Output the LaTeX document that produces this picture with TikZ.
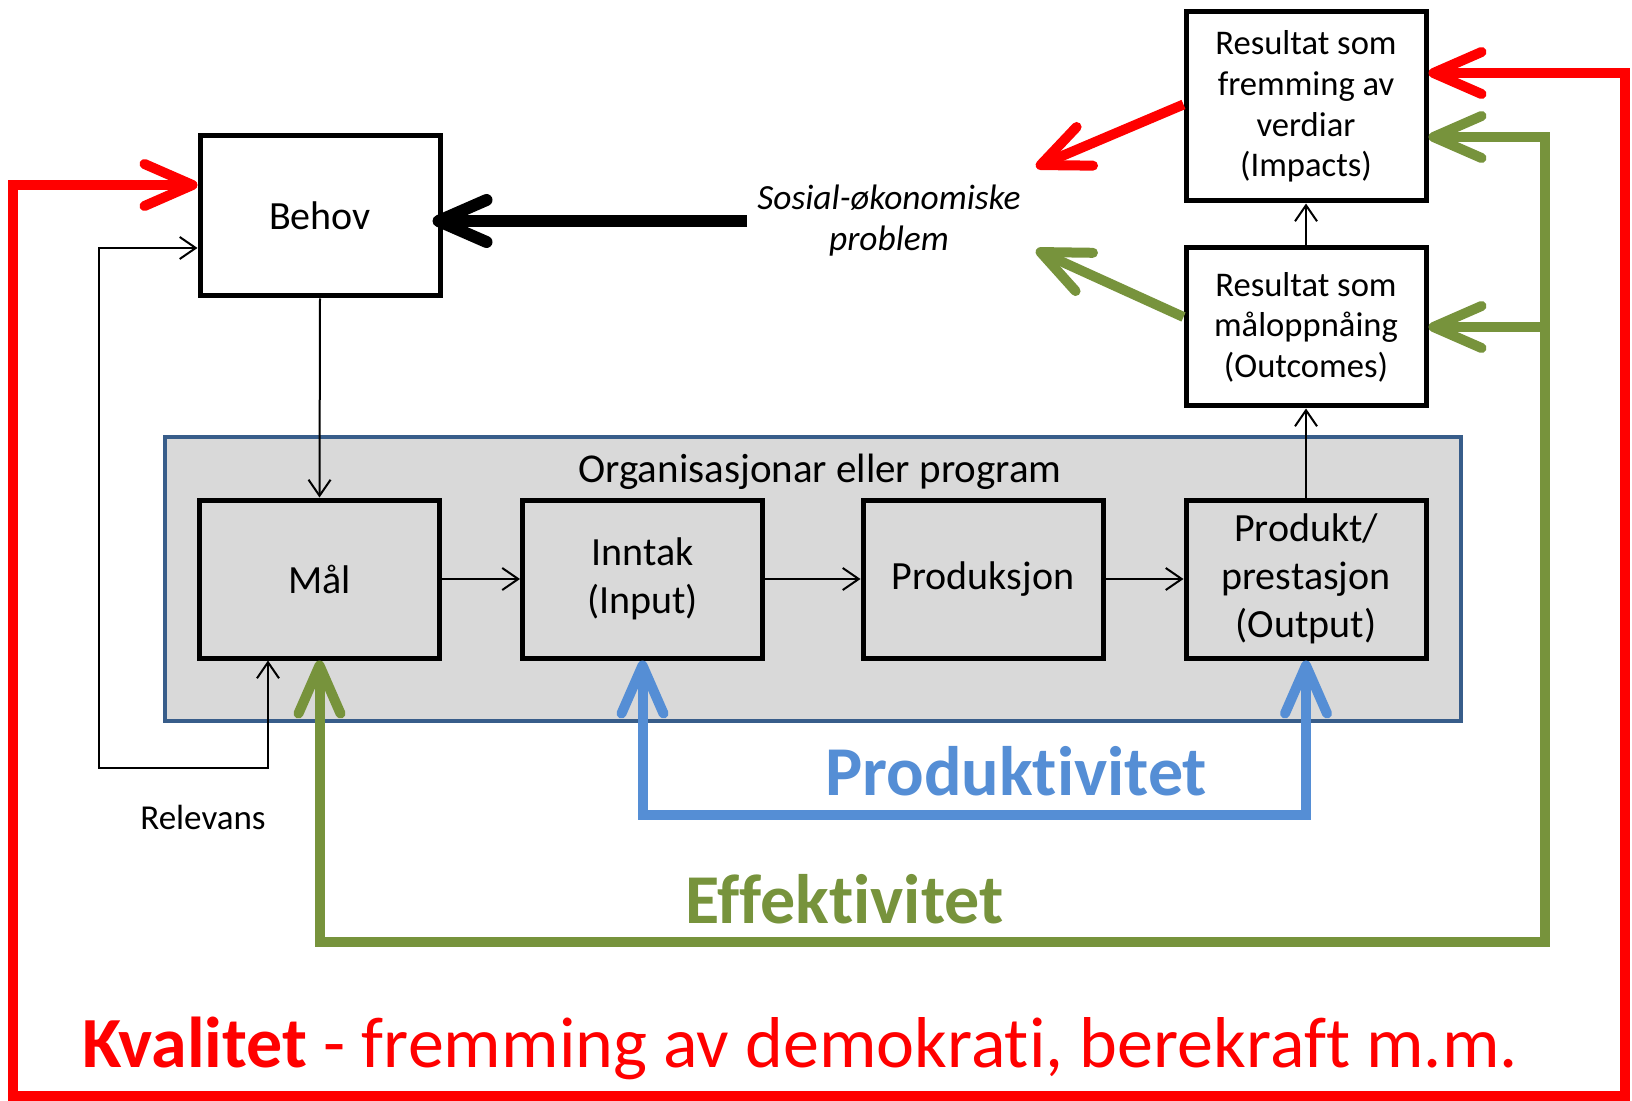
\documentclass[tikz,border=0pt]{standalone}
\usepackage{fontspec}
\setmainfont{Carlito}[Ligatures={NoCommon,NoRare,NoContextual}]
\usetikzlibrary{arrows.meta}
\definecolor{kred}{RGB}{255,0,0}
\definecolor{kgreen}{RGB}{119,147,60}
\definecolor{kblue}{RGB}{85,142,213}
\definecolor{contblue}{RGB}{56,93,138}
\definecolor{contgray}{RGB}{217,217,217}
\tikzset{
  bigbarb/.tip={Straight Barb[length=24pt,width=21pt,round]},
  thinbarb/.tip={Straight Barb[length=8pt,width=11pt]},
  mybox/.style={draw=black, line width=2.5pt, minimum width=120pt, inner sep=0pt, align=center, font=\fontsize{20}{24}\selectfont},
  resbox/.style={draw=black, line width=2.5pt, fill=white, minimum width=120pt, inner sep=0pt, align=center, font=\fontsize{17.3}{20.3}\selectfont},
  thinline/.style={line width=1pt, draw=black},
  redline/.style={line width=5pt, draw=kred, line join=miter},
  greenline/.style={line width=5pt, draw=kgreen, line join=miter},
  blueline/.style={line width=5pt, draw=kblue, line join=miter},
  blackline/.style={line width=6pt, draw=black},
  bigword/.style={anchor=base west, inner sep=0pt, font=\fontsize{35}{42}\selectfont\bfseries},
}
\begin{document}
\begin{tikzpicture}[x=0.5pt,y=-0.5pt]
\useasboundingbox[fill=white] (0,0) rectangle (1632,1101);

% container
\node[draw=contblue, fill=contgray, line width=2pt, minimum width=648pt, minimum height=142pt, inner sep=0pt] (org) at (813,579) {};
\node[font=\fontsize{20.5}{24}\selectfont, inner sep=0pt] (orglabel) at (820,472) {Organisasjonar eller program};

% boxes
\node[mybox, fill=white, minimum height=80pt] (behov) at (320,216) {Behov};
\node[mybox, minimum height=79pt] (mal) at (319.5,579) {Mål};
\node[mybox, minimum height=79pt] (inntak) at (642.5,579) {Inntak\\(Input)};
\node[mybox, minimum height=79pt] (prod) at (983,579) {Produksjon};
\node[mybox, minimum height=79pt] (produkt) at (1306,579) {Produkt/\\prestasjon\\(Output)};
\node[resbox, minimum height=94.5pt] (impacts) at (1306,106.5) {Resultat som\\fremming av\\verdiar\\(Impacts)};
\node[resbox, minimum height=79pt] (outcomes) at (1306,327) {Resultat som\\måloppnåing\\(Outcomes)};

% texts
\node[font=\fontsize{17.7}{20.5}\selectfont\itshape, align=center, inner sep=0pt] (sosial) at (889,221) {Sosial-økonomiske\\problem};
\node[font=\fontsize{17.5}{21}\selectfont, inner sep=0pt] (relevans) at (203,817) {Relevans};
\node[bigword, text=kblue] (produktivitet) at (825,795) {Produktivitet};
\node[bigword, text=kgreen] (effektivitet) at (685,923) {Effektivitet};
\node[anchor=base west, inner sep=0pt, text=kred, font=\fontsize{36}{43}\selectfont] (kvalitet) at (82,1067) {\textbf{Kvalitet} - fremming av demokrati, berekraft m.m.};

% coordinates
\coordinate (rel) at (99,768);
\coordinate (bl) at (642.5,815);
\coordinate (gbot) at (1545,942);
\coordinate (gtop) at (1545,137);
\coordinate (gmid) at (1545,327);
\coordinate (r1) at (1625,73);
\coordinate (r2) at (1625,1096);
\coordinate (r3) at (13,1096);
\coordinate (r4) at (13,185);
\coordinate (rtip) at (1036,167);
\coordinate (gtip) at (1036,250);

% thin arrows
\draw[thinline, -thinbarb] (behov.south) -- (mal.north);
\draw[thinline, -thinbarb] (mal.east) -- (inntak.west);
\draw[thinline, -thinbarb] (inntak.east) -- (prod.west);
\draw[thinline, -thinbarb] (prod.east) -- (produkt.west);
\draw[thinline, -thinbarb] (produkt.north) -- (outcomes.south);
\draw[thinline, -thinbarb] (outcomes.north) -- (impacts.south);
\draw[thinline, thinbarb-thinbarb] ([xshift=-25.75pt]mal.south) |- (rel) |- ([yshift=-16pt]behov.west);

% black thick
\draw[blackline, -bigbarb] ([xshift=-5pt]sosial.west) -- ([xshift=-5pt]sosial.west -| behov.east);

% blue loop
\draw[blueline, bigbarb-bigbarb] (inntak.south) -- (inntak.south |- bl) -| (produkt.south);

% green loop
\draw[greenline, bigbarb-bigbarb] (mal.south) |- (gbot) -- (gtop) -- (impacts.east |- gtop);
\draw[greenline, -bigbarb] (gmid) -- (outcomes.east);
\draw[greenline, -bigbarb] ([yshift=5pt]outcomes.west) -- (gtip);

% red loop
\draw[redline, bigbarb-bigbarb] (impacts.east |- r1) -- (r1) -- (r2) -- (r3) -- (r4) -- (behov.west |- r4);
\draw[redline, -bigbarb] ([yshift=1pt]impacts.west) -- (rtip);
\end{tikzpicture}
\end{document}
